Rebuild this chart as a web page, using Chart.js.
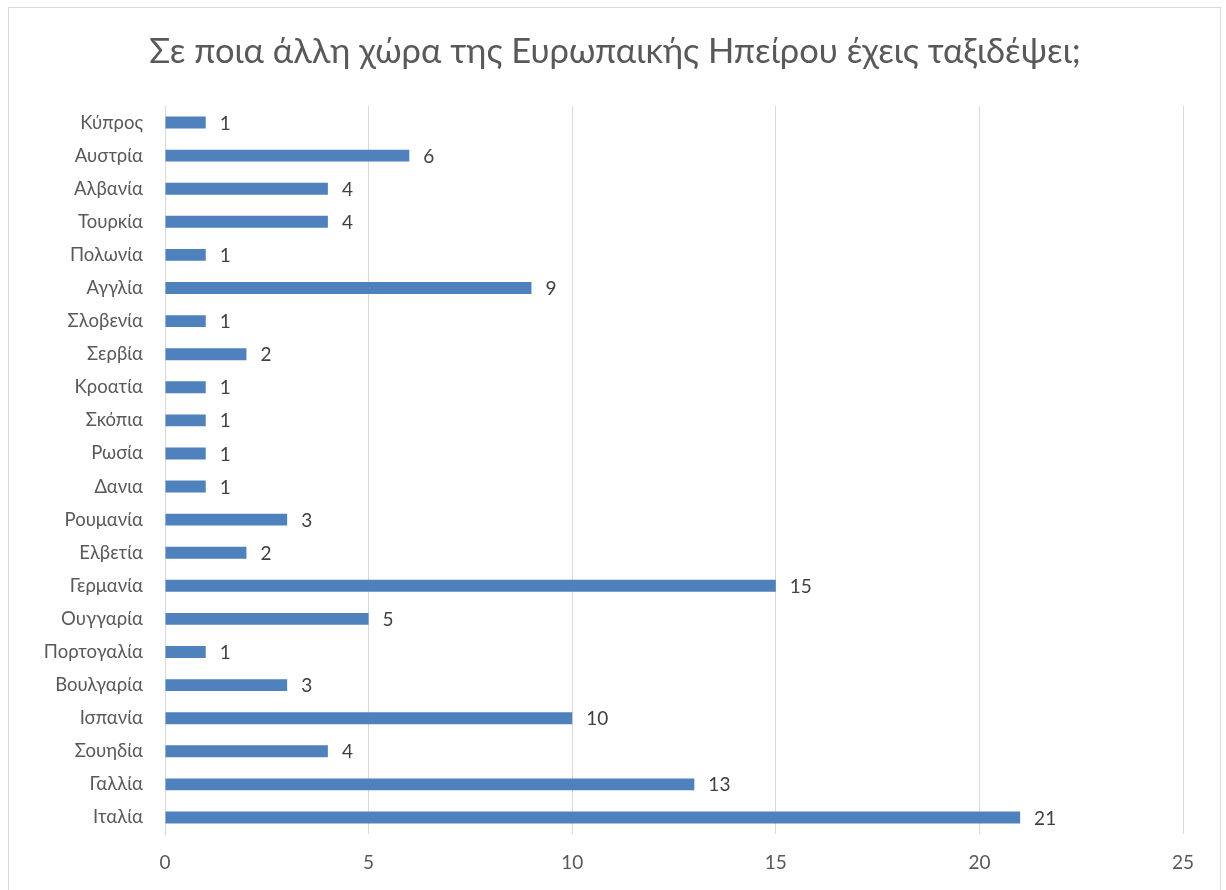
<!DOCTYPE html>
<html>
<head>
<meta charset="utf-8">
<script src="https://cdn.jsdelivr.net/npm/chart.js@4"></script>
<style>
  body { margin: 0; background: #fff; }
  #wrap { position: relative; width: 1226px; height: 890px; }
  #frame { position: absolute; left: 8px; top: 7px; width: 1213px; height: 890px; border: 1px solid #d9d9d9; box-sizing: border-box; pointer-events: none; }
</style>
</head>
<body>
<div id="wrap">
  <canvas id="myChart" width="1226" height="890"></canvas>
  <div id="frame"></div>
</div>
<script>
// Données (de haut en bas)
const titre = 'Σε ποια άλλη χώρα της Ευρωπαικής Ηπείρου έχεις ταξιδέψει;';
const pays = ['Κύπρος', 'Αυστρία', 'Αλβανία', 'Τουρκία', 'Πολωνία', 'Αγγλία', 'Σλοβενία', 'Σερβία',
  'Κροατία', 'Σκόπια', 'Ρωσία', 'Δανια', 'Ρουμανία', 'Ελβετία', 'Γερμανία', 'Ουγγαρία',
  'Πορτογαλία', 'Βουλγαρία', 'Ισπανία', 'Σουηδία', 'Γαλλία', 'Ιταλία'];
const valeurs = [1, 6, 4, 4, 1, 9, 1, 2, 1, 1, 1, 1, 3, 2, 15, 5, 1, 3, 10, 4, 13, 21];
const ticksX = [0, 5, 10, 15, 20, 25];

const police = "Lato, 'Open Sans', sans-serif";

// petit plugin pour écrire les valeurs au bout des barres
const etiquettes = {
  id: 'etiquettes',
  afterDatasetsDraw(chart) {
    const ctx = chart.ctx;
    const meta = chart.getDatasetMeta(0);
    ctx.save();
    ctx.font = '19px ' + police;
    ctx.fillStyle = '#404040';
    ctx.textAlign = 'left';
    ctx.textBaseline = 'middle';
    meta.data.forEach((bar, i) => {
      ctx.fillText(String(valeurs[i]), bar.x + 14, bar.y + 1);
    });
    ctx.restore();
  }
};

// titre centré dans le cadre (et pas sur la zone du graphique)
const titreCadre = {
  id: 'titreCadre',
  afterDraw(chart) {
    const ctx = chart.ctx;
    ctx.save();
    ctx.font = '34.5px ' + police;
    ctx.fillStyle = '#595959';
    ctx.textAlign = 'center';
    ctx.textBaseline = 'middle';
    ctx.fillText(titre, 615, 52);
    ctx.restore();
  }
};

const config = {
  type: 'bar',
  data: {
    labels: pays,
    datasets: [{
      data: valeurs,
      backgroundColor: '#4F81BD',
      borderWidth: 0,
      barPercentage: 0.6,
      categoryPercentage: 0.6
    }]
  },
  options: {
    indexAxis: 'y',
    responsive: false,
    animation: false,
    layout: { padding: { top: 106, left: 0, right: 43, bottom: 0 } },
    plugins: {
      legend: { display: false },
      tooltip: { enabled: false },
      title: { display: false }
    },
    scales: {
      x: {
        min: 0,
        max: 25,
        afterBuildTicks(scale) {
          scale.ticks = ticksX.map(v => ({ value: v }));
        },
        afterFit(scale) { scale.height = 56; },
        grid: { color: '#d9d9d9', drawTicks: false, lineWidth: 1 },
        border: { display: false },
        ticks: { color: '#595959', font: { family: police, size: 19 }, padding: 17 }
      },
      y: {
        afterFit(scale) { scale.width = 165; },
        grid: { display: false, drawTicks: false },
        border: { display: true, color: '#d9d9d9' },
        ticks: { color: '#595959', font: { family: police, size: 18.5 }, padding: 22, autoSkip: false }
      }
    }
  },
  plugins: [etiquettes, titreCadre]
};

const monGraphique = new Chart(document.getElementById('myChart'), config);
</script>
</body>
</html>
